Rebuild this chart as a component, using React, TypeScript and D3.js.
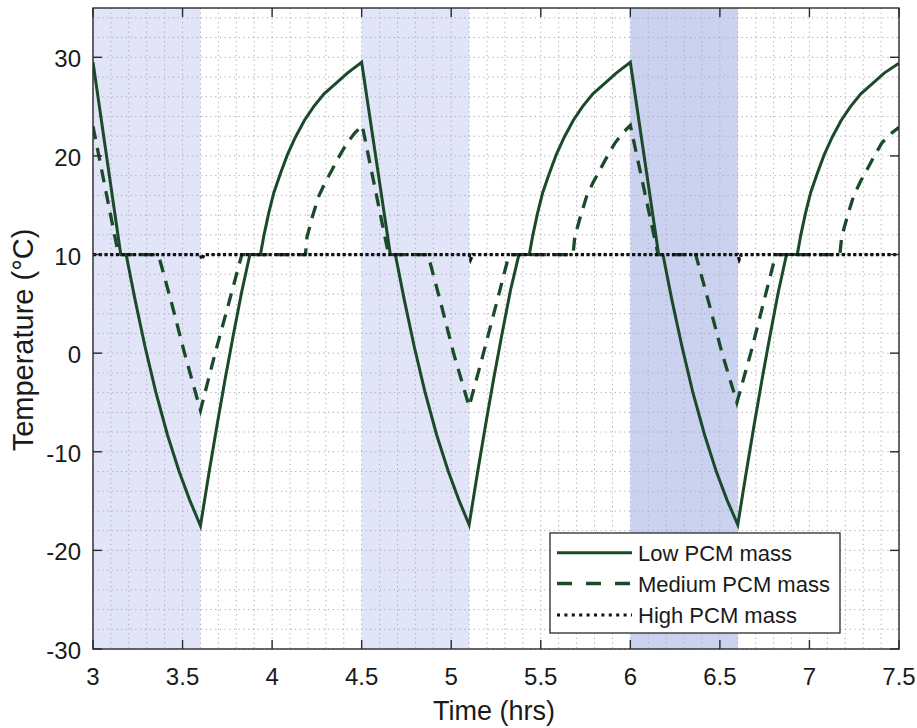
import React from "react";
import * as d3 from "d3";

const W = 917;
const H = 728;
const PLOT = { left: 93, right: 899, top: 8, bottom: 649 };

const xTicks = [3, 3.5, 4, 4.5, 5, 5.5, 6, 6.5, 7, 7.5];
const yTicks = [-30, -20, -10, 0, 10, 20, 30];
const xTickLabels = ["3", "3.5", "4", "4.5", "5", "5.5", "6", "6.5", "7", "7.5"];
const yTickLabels = ["-30", "-20", "-10", "0", "10", "20", "30"];

const shadeStart = [3.0, 4.5, 6.0];
const shadeEnd = [3.6, 5.1, 6.6];
const shadeFill = ["#e1e5f7", "#e1e5f7", "#cbd2f0"];

const lowTime = [
  3.0, 3.155, 3.185, 3.235, 3.29, 3.35, 3.415, 3.48, 3.54, 3.6,
  3.646, 3.692, 3.738, 3.784, 3.83, 3.876, 3.935, 3.955, 3.981, 4.01, 4.046,
  4.085, 4.13, 4.18, 4.232, 4.29, 4.353, 4.42, 4.5,
  4.66, 4.688, 4.738, 4.793, 4.853, 4.918, 4.983, 5.043, 5.1,
  5.146, 5.192, 5.238, 5.284, 5.33, 5.378, 5.436, 5.456, 5.482, 5.511, 5.547,
  5.586, 5.631, 5.681, 5.733, 5.791, 5.854, 5.921, 6.0,
  6.158, 6.182, 6.232, 6.288, 6.348, 6.414, 6.479, 6.54, 6.6,
  6.645, 6.69, 6.735, 6.78, 6.825, 6.872, 6.932, 6.952, 6.978, 7.007, 7.043,
  7.082, 7.127, 7.177, 7.229, 7.287, 7.35, 7.417, 7.5,
];
const lowTemp = [
  29.5, 10.0, 10.0, 5.4, 0.7, -3.9, -8.25, -11.95, -14.9, -17.5,
  -12.3, -7.35, -2.6, 1.9, 6.2, 10.0, 10.0, 12.0, 14.2, 16.3, 18.2,
  20.1, 21.9, 23.6, 25.0, 26.3, 27.3, 28.4, 29.5,
  10.0, 10.0, 5.4, 0.7, -3.9, -8.25, -11.95, -14.9, -17.4,
  -12.2, -7.25, -2.5, 2.0, 6.3, 10.0, 10.0, 12.0, 14.2, 16.3, 18.2,
  20.1, 21.9, 23.6, 25.0, 26.3, 27.3, 28.4, 29.5,
  10.0, 10.0, 5.4, 0.7, -3.9, -8.25, -11.95, -14.9, -17.4,
  -12.3, -7.4, -2.7, 1.8, 6.1, 10.0, 10.0, 12.0, 14.2, 16.3, 18.2,
  20.1, 21.9, 23.6, 25.0, 26.3, 27.3, 28.4, 29.4,
];

const mediumTime = [
  3.0, 3.142, 3.365, 3.44, 3.511, 3.6, 3.682, 3.757, 3.831, 4.186,
  4.195, 4.226, 4.26, 4.296, 4.335, 4.376, 4.418, 4.46, 4.503,
  4.65, 4.87, 4.943, 5.013, 5.1, 5.18, 5.252, 5.323, 5.68,
  5.69, 5.722, 5.756, 5.792, 5.831, 5.872, 5.914, 5.956, 6.0,
  6.155, 6.365, 6.44, 6.512, 6.595, 6.672, 6.742, 6.812, 7.17,
  7.18, 7.212, 7.246, 7.282, 7.321, 7.362, 7.404, 7.45, 7.5,
];
const mediumTemp = [
  23.0, 10.0, 10.0, 5.0, 0.0, -5.8, 0.0, 5.0, 10.0, 10.0,
  11.8, 13.9, 15.9, 17.3, 18.6, 20.0, 21.3, 22.3, 23.1,
  10.0, 10.0, 5.0, 0.0, -5.4, 0.0, 5.0, 10.0, 10.0,
  11.8, 13.9, 15.9, 17.3, 18.6, 20.0, 21.3, 22.3, 23.1,
  10.0, 10.0, 5.0, 0.0, -5.0, 0.0, 5.0, 10.0, 10.0,
  11.8, 13.9, 15.9, 17.3, 18.6, 20.0, 21.3, 22.2, 22.9,
];

const highTime = [3.0, 3.6, 3.608, 3.62, 5.1, 5.108, 5.12, 6.6, 6.608, 6.62, 7.5];
const highTemp = [10, 10, 9.5, 10, 10, 9.5, 10, 10, 9.5, 10, 10];

const seriesNames = ["Low PCM mass", "Medium PCM mass", "High PCM mass"];

const GREEN = "#1b4a2b";
const DOT = "#111111";
const FONT = "'Liberation Sans', Arial, Helvetica, sans-serif";

export default function App() {
  const x = d3.scaleLinear().domain([3, 7.5]).range([PLOT.left, PLOT.right]);
  const y = d3.scaleLinear().domain([-30, 35]).range([PLOT.bottom, PLOT.top]);

  const line = d3
    .line<[number, number]>()
    .x((d) => x(d[0]))
    .y((d) => y(d[1]))
    .curve(d3.curveLinear);

  const zip = (a: number[], b: number[]) => a.map((t, i) => [t, b[i]] as [number, number]);
  const lowPath = line(zip(lowTime, lowTemp)) || "";
  const medPath = line(zip(mediumTime, mediumTemp)) || "";
  const highPath = line(zip(highTime, highTemp)) || "";

  const minorX = d3.range(30, 76).map((v) => v / 10);
  const minorY = d3.range(-30, 36, 2);

  const tickLen = 9;
  const legend = { x0: 550, y0: 533, x1: 840, y1: 633 };
  const rows = [552.7, 583.5, 615];
  const styles = [
    { stroke: GREEN, dash: "none", width: 3 },
    { stroke: GREEN, dash: "15 14", width: 3.3 },
    { stroke: DOT, dash: "3 4.4", width: 3.2 },
  ];

  return (
    <div style={{ position: "absolute", left: 0, top: 0, width: W, height: H, background: "#fff" }}>
      <svg width={W} height={H} viewBox={`0 0 ${W} ${H}`} style={{ display: "block" }}>
        <defs>
          <clipPath id="plotClip">
            <rect x={PLOT.left} y={PLOT.top} width={PLOT.right - PLOT.left} height={PLOT.bottom - PLOT.top} />
          </clipPath>
        </defs>
        <rect x={0} y={0} width={W} height={H} fill="#fff" />
        {shadeStart.map((s, i) => (
          <rect
            key={"sh" + i}
            x={x(s)}
            y={PLOT.top}
            width={x(shadeEnd[i]) - x(s)}
            height={PLOT.bottom - PLOT.top}
            fill={shadeFill[i]}
          />
        ))}
        <g stroke="#a8a8b8" strokeWidth={1} strokeDasharray="1.2 3.5" fill="none">
          {minorX.map((v, i) => (
            <line key={"gx" + i} x1={x(v)} x2={x(v)} y1={PLOT.top} y2={PLOT.bottom} />
          ))}
          {minorY.map((v, i) => (
            <line key={"gy" + i} x1={PLOT.left} x2={PLOT.right} y1={y(v)} y2={y(v)} />
          ))}
        </g>
        <g clipPath="url(#plotClip)" fill="none" strokeLinejoin="miter">
          <path d={lowPath} stroke={GREEN} strokeWidth={3} />
          <path d={medPath} stroke={GREEN} strokeWidth={3.3} strokeDasharray="13 9" />
          <path d={highPath} stroke={DOT} strokeWidth={3.3} strokeDasharray="3.3 2.4" />
        </g>
        <rect
          x={PLOT.left}
          y={PLOT.top}
          width={PLOT.right - PLOT.left}
          height={PLOT.bottom - PLOT.top}
          fill="none"
          stroke="#2a2a2a"
          strokeWidth={1.4}
        />
        <g stroke="#2a2a2a" strokeWidth={1.4}>
          {xTicks.map((v, i) => (
            <g key={"xt" + i}>
              <line x1={x(v)} x2={x(v)} y1={PLOT.bottom} y2={PLOT.bottom - tickLen} />
              <line x1={x(v)} x2={x(v)} y1={PLOT.top} y2={PLOT.top + tickLen} />
            </g>
          ))}
          {yTicks.map((v, i) => (
            <g key={"yt" + i}>
              <line x1={PLOT.left} x2={PLOT.left + tickLen} y1={y(v)} y2={y(v)} />
              <line x1={PLOT.right} x2={PLOT.right - tickLen} y1={y(v)} y2={y(v)} />
            </g>
          ))}
        </g>
        <g fontFamily={FONT} fill="#1a1a1a" fontSize={24}>
          {xTicks.map((v, i) => (
            <text key={"xl" + i} x={x(v)} y={685} textAnchor="middle">
              {xTickLabels[i]}
            </text>
          ))}
          {yTicks.map((v, i) => (
            <text key={"yl" + i} x={81} y={y(v) + 10} textAnchor="end">
              {yTickLabels[i]}
            </text>
          ))}
        </g>
        <text x={494} y={720} textAnchor="middle" fontFamily={FONT} fontSize={27} fill="#1a1a1a">
          Time (hrs)
        </text>
        <text
          transform={`translate(33, 340) rotate(-90)`}
          textAnchor="middle"
          fontFamily={FONT}
          fontSize={29}
          fill="#1a1a1a"
        >
          Temperature (°C)
        </text>
        <rect
          x={legend.x0}
          y={legend.y0}
          width={legend.x1 - legend.x0}
          height={legend.y1 - legend.y0}
          fill="#fff"
          stroke="#2a2a2a"
          strokeWidth={1.3}
        />
        {seriesNames.map((name, i) => (
          <g key={"lg" + i}>
            <line
              x1={557}
              x2={632}
              y1={rows[i]}
              y2={rows[i]}
              stroke={styles[i].stroke}
              strokeWidth={styles[i].width}
              strokeDasharray={styles[i].dash}
            />
            <text x={638} y={rows[i] + 8} fontFamily={FONT} fontSize={22} fill="#1a1a1a">
              {name}
            </text>
          </g>
        ))}
      </svg>
    </div>
  );
}
